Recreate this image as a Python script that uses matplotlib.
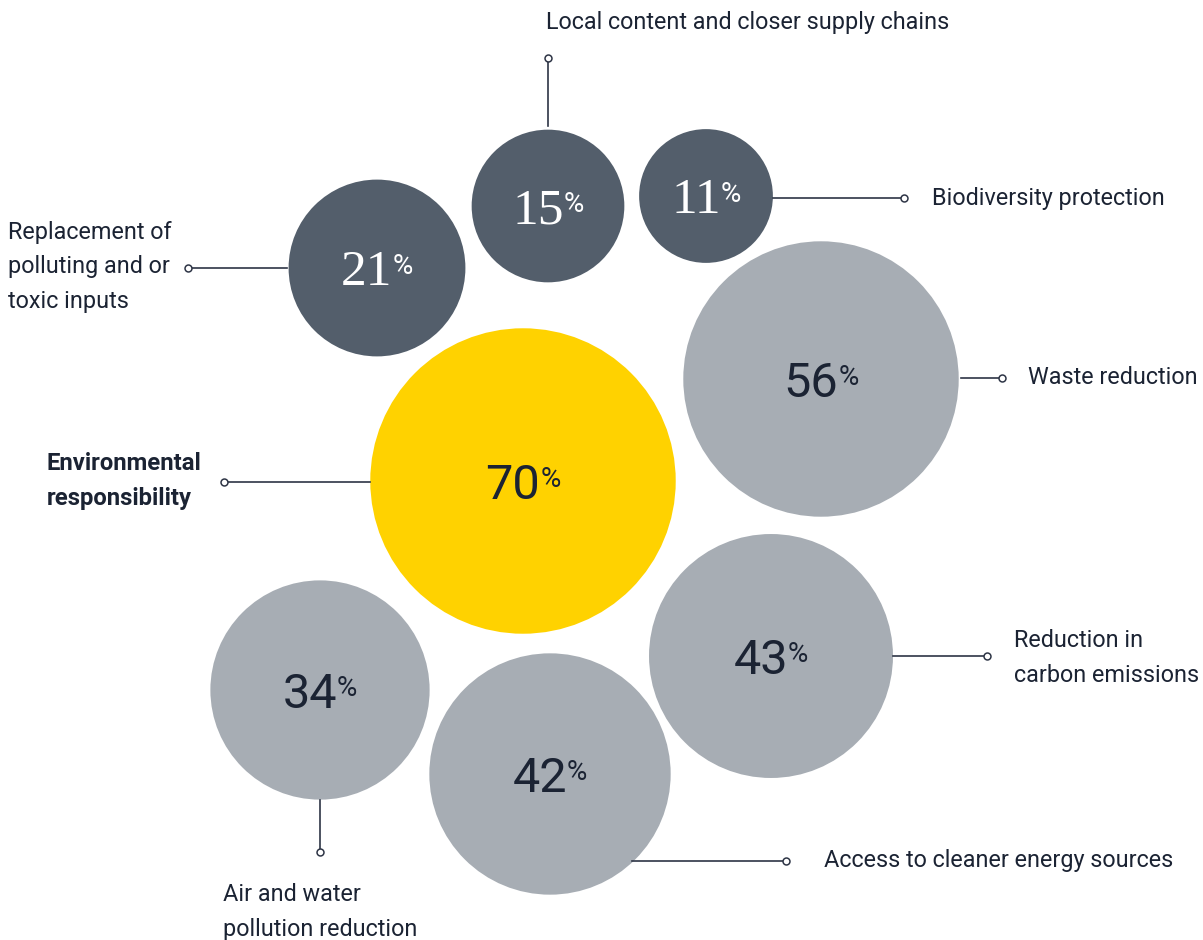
import numpy as np
import matplotlib.pyplot as plt
from matplotlib.patches import Circle

# share of respondents naming each environmental priority
labels = [
    "Environmental\nresponsibility",
    "Waste reduction",
    "Reduction in\ncarbon emissions",
    "Access to cleaner energy sources",
    "Air and water\npollution reduction",
    "Replacement of\npolluting and or\ntoxic inputs",
    "Local content and closer supply chains",
    "Biodiversity protection",
]
values = [70, 56, 43, 42, 34, 21, 15, 11]

# bubble centres in pixel space (y grows downwards)
centres = [(523, 481), (821, 379), (771, 656), (550, 774),
           (320, 690), (377, 268), (548, 206), (706, 196)]
fills = ["#FFD200", "#A7ADB4", "#A7ADB4", "#A7ADB4",
         "#A7ADB4", "#535E6B", "#535E6B", "#535E6B"]

# leader line: (start on bubble, end with marker)
leaders = [
    ((370, 482), (224, 482)),
    ((961, 378), (1002, 378)),
    ((893, 656), (987, 656)),
    ((632, 861), (786, 861)),
    ((320, 800), (320, 852)),
    ((287, 268), (188, 268)),
    ((548, 126), (548, 58)),
    ((773, 198), (904, 198)),
]
label_pos = [(47, 481), (1028, 377), (1014, 658), (824, 861),
             (223, 912), (8, 267), (546, 22), (932, 198)]

INK = "#1B2333"
LINE = "#2E3546"


def radius(v):
    return 10.5 + 17.0 * np.sqrt(v)


fig = plt.figure(figsize=(12.03, 9.40), dpi=100)
ax = fig.add_axes([0, 0, 1, 1])
ax.set_xlim(0, 1203)
ax.set_ylim(940, 0)
ax.axis("off")

for (cx, cy), v, c in zip(centres, values, fills):
    ax.add_patch(Circle((cx, cy), radius(v), facecolor=c, edgecolor="none", zorder=1))

for (p0, p1) in leaders:
    ax.plot([p0[0], p1[0]], [p0[1], p1[1]], color=LINE, lw=1.2, zorder=2)
    ax.plot(p1[0], p1[1], "o", ms=5, mfc="white", mec=LINE, mew=1.1, zorder=3)

for i, (lab, (lx, ly)) in enumerate(zip(labels, label_pos)):
    bold = i == 0
    ax.text(lx, ly, lab, ha="left", va="center", fontsize=16.8 if not bold else 17.2,
            family="Roboto", fontweight="bold" if bold else "normal",
            color=INK, linespacing=1.65, zorder=4)

# numbers with a raised percent sign, centred as a pair on each bubble
fig.canvas.draw()
renderer = fig.canvas.get_renderer()
for i, ((cx, cy), v) in enumerate(zip(centres, values)):
    dark = fills[i] == "#535E6B"
    col = "white" if dark else INK
    fam = "Liberation Serif" if dark else "Roboto"
    num = ax.text(cx, cy + 5, str(v), ha="left", va="center", fontsize=37 if dark else 35,
                  family=fam, fontweight="normal", color=col, zorder=4)
    pct = ax.text(cx, cy + 5, "%", ha="left", va="top", fontsize=20,
                  family="Roboto", fontweight="normal", color=col, zorder=4)
    wn = num.get_window_extent(renderer).width
    wp = pct.get_window_extent(renderer).width
    gap = 0
    total = wn + gap + wp
    x0 = cx - total / 2
    num.set_x(x0)
    pct.set_x(x0 + wn + gap)
    pct.set_y(cy - 15)

fig.savefig("out.png", dpi=100)
